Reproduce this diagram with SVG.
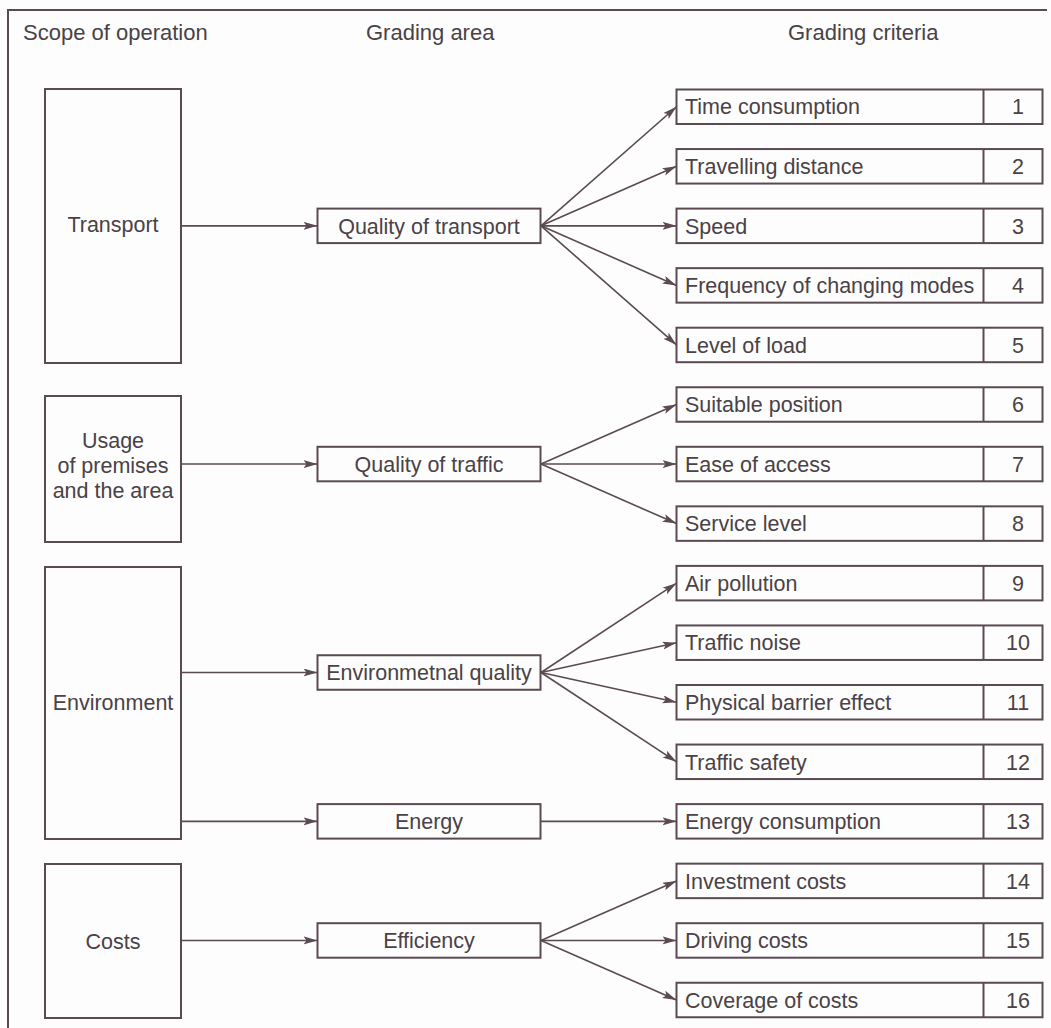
<svg xmlns="http://www.w3.org/2000/svg" width="1051" height="1028" viewBox="0 0 1051 1028">
<defs>
<style>
.bx{fill:none;stroke:#5a4a52;stroke-width:2}
.ln{fill:none;stroke:#5a4a52;stroke-width:1.6;marker-end:url(#ah)}
.t{font-family:"Liberation Sans",Arial,sans-serif;font-size:21.5px;fill:#4a4246}
.h{font-size:22px}
.c{text-anchor:middle}
</style>
<marker id="ah" markerUnits="userSpaceOnUse" markerWidth="15" markerHeight="10" refX="14" refY="4" orient="auto">
<path d="M0,0 L14,4 L0,8 L3,4 z" fill="#5a4a52"/>
</marker>
</defs>
<rect width="1051" height="1028" fill="#fdfdfd"/>
<g id="frame">
<path class="bx" d="M8,1028 V10 H1047"/>
</g>
<g id="headers">
<text class="t h" x="23" y="40">Scope of operation</text>
<text class="t h" x="366" y="40">Grading area</text>
<text class="t h" x="788" y="40">Grading criteria</text>
</g>
<g id="scope-transport"><rect class="bx" x="45" y="89" width="136" height="274"/><text class="t c" x="113" y="232">Transport</text></g>
<g id="scope-usage"><rect class="bx" x="45" y="396" width="136" height="146"/><text class="t c" x="113" y="447.5">Usage</text><text class="t c" x="113" y="472.5">of premises</text><text class="t c" x="113" y="497.5">and the area</text></g>
<g id="scope-environment"><rect class="bx" x="45" y="567" width="136" height="272"/><text class="t c" x="113" y="710">Environment</text></g>
<g id="scope-costs"><rect class="bx" x="45" y="864" width="136" height="154"/><text class="t c" x="113" y="948.5">Costs</text></g>

<g id="area-transport"><rect class="bx" x="317.5" y="208.6" width="223" height="34.5"/><text class="t c" x="429" y="233.5">Quality of transport</text></g>
<g id="area-traffic"><rect class="bx" x="317.5" y="446.8" width="223" height="34.5"/><text class="t c" x="429" y="471.7">Quality of traffic</text></g>
<g id="area-environment"><rect class="bx" x="317.5" y="655.25" width="223" height="34.5"/><text class="t c" x="429" y="680.2">Environmetnal quality</text></g>
<g id="area-energy"><rect class="bx" x="317.5" y="804.1" width="223" height="34.5"/><text class="t c" x="429" y="829">Energy</text></g>
<g id="area-efficiency"><rect class="bx" x="317.5" y="923.2" width="223" height="34.5"/><text class="t c" x="429" y="948.1">Efficiency</text></g>

<g id="c1"><rect class="bx" x="676.5" y="89.5" width="366" height="34.5"/><line class="bx" x1="983.5" y1="89.5" x2="983.5" y2="124"/><text class="t" x="685" y="114.4">Time consumption</text><text class="t c" x="1018" y="114.4">1</text></g>
<g id="c2"><rect class="bx" x="676.5" y="149.05" width="366" height="34.5"/><line class="bx" x1="983.5" y1="149.05" x2="983.5" y2="183.55"/><text class="t" x="685" y="174">Travelling distance</text><text class="t c" x="1018" y="174">2</text></g>
<g id="c3"><rect class="bx" x="676.5" y="208.6" width="366" height="34.5"/><line class="bx" x1="983.5" y1="208.6" x2="983.5" y2="243.1"/><text class="t" x="685" y="233.5">Speed</text><text class="t c" x="1018" y="233.5">3</text></g>
<g id="c4"><rect class="bx" x="676.5" y="268.15" width="366" height="34.5"/><line class="bx" x1="983.5" y1="268.15" x2="983.5" y2="302.65"/><text class="t" x="685" y="293.1">Frequency of changing modes</text><text class="t c" x="1018" y="293.1">4</text></g>
<g id="c5"><rect class="bx" x="676.5" y="327.7" width="366" height="34.5"/><line class="bx" x1="983.5" y1="327.7" x2="983.5" y2="362.2"/><text class="t" x="685" y="352.6">Level of load</text><text class="t c" x="1018" y="352.6">5</text></g>
<g id="c6"><rect class="bx" x="676.5" y="387.25" width="366" height="34.5"/><line class="bx" x1="983.5" y1="387.25" x2="983.5" y2="421.75"/><text class="t" x="685" y="412.2">Suitable position</text><text class="t c" x="1018" y="412.2">6</text></g>
<g id="c7"><rect class="bx" x="676.5" y="446.8" width="366" height="34.5"/><line class="bx" x1="983.5" y1="446.8" x2="983.5" y2="481.3"/><text class="t" x="685" y="471.7">Ease of access</text><text class="t c" x="1018" y="471.7">7</text></g>
<g id="c8"><rect class="bx" x="676.5" y="506.35" width="366" height="34.5"/><line class="bx" x1="983.5" y1="506.35" x2="983.5" y2="540.85"/><text class="t" x="685" y="531.3">Service level</text><text class="t c" x="1018" y="531.3">8</text></g>
<g id="c9"><rect class="bx" x="676.5" y="565.9" width="366" height="34.5"/><line class="bx" x1="983.5" y1="565.9" x2="983.5" y2="600.4"/><text class="t" x="685" y="590.8">Air pollution</text><text class="t c" x="1018" y="590.8">9</text></g>
<g id="c10"><rect class="bx" x="676.5" y="625.45" width="366" height="34.5"/><line class="bx" x1="983.5" y1="625.45" x2="983.5" y2="659.95"/><text class="t" x="685" y="650.4">Traffic noise</text><text class="t c" x="1018" y="650.4">10</text></g>
<g id="c11"><rect class="bx" x="676.5" y="685" width="366" height="34.5"/><line class="bx" x1="983.5" y1="685" x2="983.5" y2="719.5"/><text class="t" x="685" y="709.9">Physical barrier effect</text><text class="t c" x="1018" y="709.9">11</text></g>
<g id="c12"><rect class="bx" x="676.5" y="744.55" width="366" height="34.5"/><line class="bx" x1="983.5" y1="744.55" x2="983.5" y2="779.05"/><text class="t" x="685" y="769.5">Traffic safety</text><text class="t c" x="1018" y="769.5">12</text></g>
<g id="c13"><rect class="bx" x="676.5" y="804.1" width="366" height="34.5"/><line class="bx" x1="983.5" y1="804.1" x2="983.5" y2="838.6"/><text class="t" x="685" y="829">Energy consumption</text><text class="t c" x="1018" y="829">13</text></g>
<g id="c14"><rect class="bx" x="676.5" y="863.65" width="366" height="34.5"/><line class="bx" x1="983.5" y1="863.65" x2="983.5" y2="898.15"/><text class="t" x="685" y="888.6">Investment costs</text><text class="t c" x="1018" y="888.6">14</text></g>
<g id="c15"><rect class="bx" x="676.5" y="923.2" width="366" height="34.5"/><line class="bx" x1="983.5" y1="923.2" x2="983.5" y2="957.7"/><text class="t" x="685" y="948.1">Driving costs</text><text class="t c" x="1018" y="948.1">15</text></g>
<g id="c16"><rect class="bx" x="676.5" y="982.75" width="366" height="34.5"/><line class="bx" x1="983.5" y1="982.75" x2="983.5" y2="1017.25"/><text class="t" x="685" y="1007.7">Coverage of costs</text><text class="t c" x="1018" y="1007.7">16</text></g>

<g id="connectors">
<line class="ln" x1="181" y1="225.85" x2="317.5" y2="225.85"/>
<line class="ln" x1="181" y1="464.05" x2="317.5" y2="464.05"/>
<line class="ln" x1="181" y1="672.5" x2="317.5" y2="672.5"/>
<line class="ln" x1="181" y1="821.35" x2="317.5" y2="821.35"/>
<line class="ln" x1="181" y1="940.45" x2="317.5" y2="940.45"/>
<line class="ln" x1="541" y1="225.85" x2="676.5" y2="106.75"/>
<line class="ln" x1="541" y1="225.85" x2="676.5" y2="166.3"/>
<line class="ln" x1="541" y1="225.85" x2="676.5" y2="225.85"/>
<line class="ln" x1="541" y1="225.85" x2="676.5" y2="285.4"/>
<line class="ln" x1="541" y1="225.85" x2="676.5" y2="344.95"/>
<line class="ln" x1="541" y1="464.05" x2="676.5" y2="404.5"/>
<line class="ln" x1="541" y1="464.05" x2="676.5" y2="464.05"/>
<line class="ln" x1="541" y1="464.05" x2="676.5" y2="523.6"/>
<line class="ln" x1="541" y1="672.5" x2="676.5" y2="583.15"/>
<line class="ln" x1="541" y1="672.5" x2="676.5" y2="642.7"/>
<line class="ln" x1="541" y1="672.5" x2="676.5" y2="702.25"/>
<line class="ln" x1="541" y1="672.5" x2="676.5" y2="761.8"/>
<line class="ln" x1="541" y1="821.35" x2="676.5" y2="821.35"/>
<line class="ln" x1="541" y1="940.45" x2="676.5" y2="880.9"/>
<line class="ln" x1="541" y1="940.45" x2="676.5" y2="940.45"/>
<line class="ln" x1="541" y1="940.45" x2="676.5" y2="1000"/>
</g>
</svg>
